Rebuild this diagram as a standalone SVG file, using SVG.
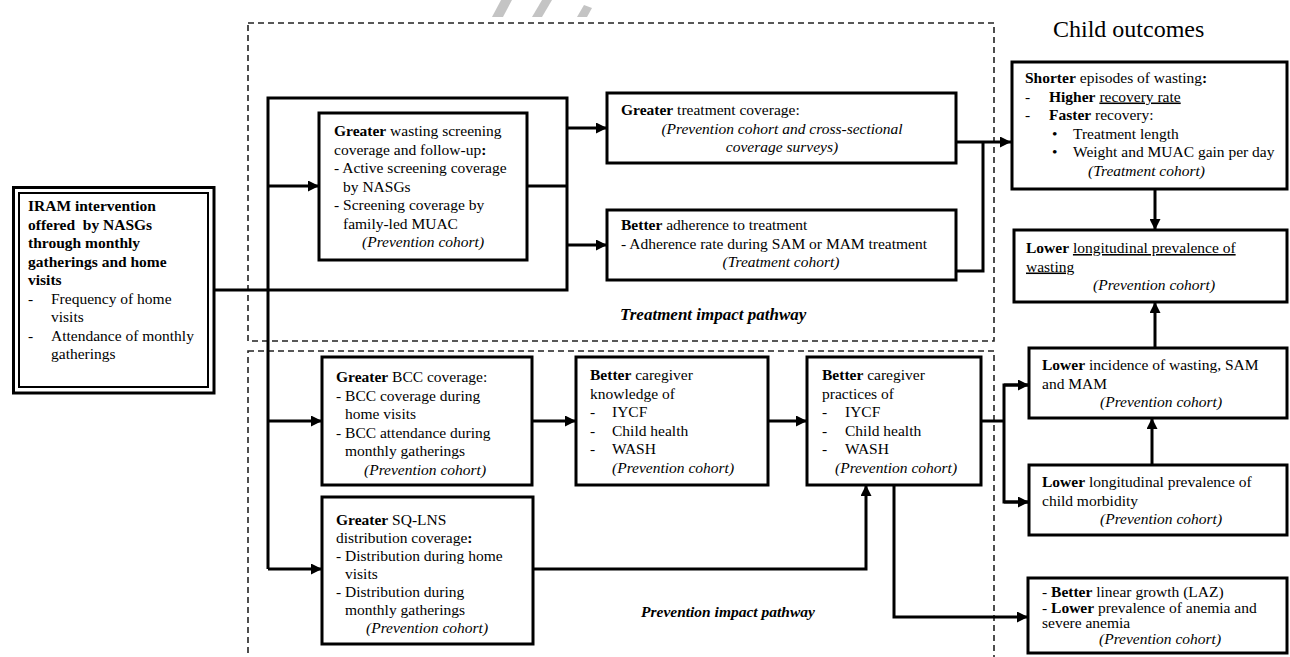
<svg xmlns="http://www.w3.org/2000/svg" width="1290" height="657" viewBox="0 0 1290 657">
<style>
text{font-family:"Liberation Serif","Times New Roman",serif;font-size:15.5px;fill:#000}
.b{font-weight:bold}
.i{font-style:italic}
.u{text-decoration:underline}
.box{fill:#fff;stroke:#000;stroke-width:3}
.dash{fill:none;stroke:#222;stroke-width:1.6;stroke-dasharray:6,4}
.con{fill:none;stroke:#000;stroke-width:3}
.arr{fill:none;stroke:#000;stroke-width:3;marker-end:url(#ah)}
</style>
<defs>
<marker id="ah" markerUnits="userSpaceOnUse" markerWidth="12" markerHeight="11" refX="11" refY="5.5" orient="auto">
<path d="M0,0 L11,5.5 L0,11 z" fill="#000"/>
</marker>
</defs>
<rect width="1290" height="657" fill="#fff"/>
<g id="watermark" fill="#c4c4c4">
<polygon points="492,17 503,17 512,0 501,0"/>
<polygon points="532,17 542,17 552,0 542,0"/>
<polygon points="577,17 587,17 592,8 584,5"/>
</g>
<g id="regions">
<rect class="dash" x="248" y="23" width="746" height="318"/>
<rect class="dash" x="248" y="351" width="746" height="400"/>
<text class="b i" x="620" y="320" style="font-size:17px">Treatment impact pathway</text>
<text class="b i" x="641" y="617">Prevention impact pathway</text>
<text x="1053" y="37" style="font-size:24px">Child outcomes</text>
</g>
<g id="connectors">
<polyline class="con" points="215,290 567,290 567,98 268,98 268,569"/>
<line class="con" x1="527" y1="186" x2="567" y2="186"/>
<line class="arr" x1="268" y1="186" x2="319" y2="186"/>
<line class="arr" x1="567" y1="128" x2="607" y2="128"/>
<line class="arr" x1="567" y1="245" x2="607" y2="245"/>
<line class="arr" x1="956" y1="142" x2="1011" y2="142"/>
<polyline class="con" points="956,271 983,271 983,142"/>
<line class="arr" x1="1155" y1="189" x2="1155" y2="230"/>
<line class="arr" x1="1155" y1="348" x2="1155" y2="302"/>
<line class="arr" x1="1152" y1="465" x2="1152" y2="418"/>
<line class="arr" x1="268" y1="421" x2="322" y2="421"/>
<line class="arr" x1="268" y1="569" x2="322" y2="569"/>
<line class="arr" x1="532" y1="421" x2="576" y2="421"/>
<line class="arr" x1="768" y1="421" x2="807" y2="421"/>
<polyline class="arr" points="533,569 866,569 866,485"/>
<line class="con" x1="981" y1="421" x2="1004" y2="421"/>
<polyline class="arr" points="1029,385 1004,385 1004,502 1029,502" style="marker-end:none"/>
<line class="arr" x1="1004" y1="385" x2="1029" y2="385"/>
<line class="arr" x1="1004" y1="502" x2="1029" y2="502"/>
<polyline class="arr" points="894,485 894,617 1028,617"/>
</g>
<g id="iram">
<rect x="13.5" y="187.5" width="200.5" height="205.5" fill="#fff" stroke="#000" stroke-width="3"/>
<rect x="19" y="193" width="189" height="194" fill="none" stroke="#000" stroke-width="2"/>
<text class="b" x="28" y="211">IRAM intervention</text>
<text class="b" x="28" y="229.5" xml:space="preserve">offered  by NASGs</text>
<text class="b" x="28" y="248">through monthly</text>
<text class="b" x="28" y="266.5">gatherings and home</text>
<text class="b" x="28" y="285">visits</text>
<text x="28" y="303.5">-</text><text x="51" y="303.5">Frequency of home</text>
<text x="51" y="322">visits</text>
<text x="28" y="340.5">-</text><text x="51" y="340.5">Attendance of monthly</text>
<text x="51" y="359">gatherings</text>
</g>
<g id="screening">
<rect class="box" x="319" y="113" width="208" height="147"/>
<text x="334" y="136"><tspan class="b">Greater</tspan> wasting screening</text>
<text x="334" y="154.5">coverage and follow-up<tspan class="b">:</tspan></text>
<text x="334" y="173">- Active screening coverage</text>
<text x="343" y="191.5">by NASGs</text>
<text x="334" y="210">- Screening coverage by</text>
<text x="343" y="228.5">family-led MUAC</text>
<text class="i" x="362" y="247">(Prevention cohort)</text>
</g>
<g id="treatment-coverage">
<rect class="box" x="607" y="93" width="349" height="70"/>
<text x="621" y="115"><tspan class="b">Greater</tspan> treatment coverage:</text>
<text class="i" x="782" y="133.5" text-anchor="middle">(Prevention cohort and cross-sectional</text>
<text class="i" x="782" y="152" text-anchor="middle">coverage surveys)</text>
</g>
<g id="adherence">
<rect class="box" x="607" y="210" width="349" height="70"/>
<text x="621" y="230"><tspan class="b">Better</tspan> adherence to treatment</text>
<text x="621" y="248.5">- Adherence rate during SAM or MAM treatment</text>
<text class="i" x="781" y="267" text-anchor="middle">(Treatment cohort)</text>
</g>
<g id="shorter">
<rect class="box" x="1012" y="62" width="275" height="127"/>
<text x="1025" y="83"><tspan class="b">Shorter</tspan><tspan dx="4">episodes of wasting</tspan><tspan class="b">:</tspan></text>
<text x="1025" y="101.5">-</text><text x="1049" y="101.5"><tspan class="b">Higher</tspan> <tspan class="u">recovery rate</tspan></text>
<text x="1025" y="120">-</text><text x="1049" y="120"><tspan class="b">Faster</tspan> recovery:</text>
<text x="1052" y="138.5">•</text><text x="1073" y="138.5">Treatment length</text>
<text x="1052" y="157">•</text><text x="1073" y="157">Weight and MUAC gain per day</text>
<text class="i" x="1088" y="175.5">(Treatment cohort)</text>
</g>
<g id="longitudinal-wasting">
<rect class="box" x="1014" y="230" width="273" height="72"/>
<text x="1026" y="253"><tspan class="b">Lower</tspan> <tspan class="u">longitudinal prevalence of</tspan></text>
<text class="u" x="1026" y="271.5">wasting</text>
<text class="i" x="1093" y="290">(Prevention cohort)</text>
</g>
<g id="incidence">
<rect class="box" x="1029" y="348" width="258" height="70"/>
<text x="1042" y="370"><tspan class="b">Lower</tspan> incidence of wasting, SAM</text>
<text x="1042" y="388.5">and MAM</text>
<text class="i" x="1100" y="407">(Prevention cohort)</text>
</g>
<g id="morbidity">
<rect class="box" x="1029" y="465" width="258" height="70"/>
<text x="1042" y="487"><tspan class="b">Lower</tspan> longitudinal prevalence of</text>
<text x="1042" y="505.5">child morbidity</text>
<text class="i" x="1100" y="524">(Prevention cohort)</text>
</g>
<g id="growth">
<rect class="box" x="1028" y="578" width="259" height="75"/>
<text x="1042" y="597">- <tspan class="b">Better</tspan> linear growth (LAZ)</text>
<text x="1042" y="612.5">- <tspan class="b">Lower</tspan> prevalence of anemia and</text>
<text x="1042" y="628">severe anemia</text>
<text class="i" x="1099" y="643.5">(Prevention cohort)</text>
</g>
<g id="bcc">
<rect class="box" x="322" y="357" width="210" height="128"/>
<text x="336" y="382"><tspan class="b">Greater</tspan> BCC coverage:</text>
<text x="336" y="400.5">- BCC coverage during</text>
<text x="345" y="419">home visits</text>
<text x="336" y="437.5">- BCC attendance during</text>
<text x="345" y="456">monthly gatherings</text>
<text class="i" x="364" y="474.5">(Prevention cohort)</text>
</g>
<g id="knowledge">
<rect class="box" x="576" y="357" width="192" height="128"/>
<text x="590" y="380"><tspan class="b">Better</tspan> caregiver</text>
<text x="590" y="398.5">knowledge of</text>
<text x="590" y="417">-</text><text x="612" y="417">IYCF</text>
<text x="590" y="435.5">-</text><text x="612" y="435.5">Child health</text>
<text x="590" y="454">-</text><text x="612" y="454">WASH</text>
<text class="i" x="612" y="472.5">(Prevention cohort)</text>
</g>
<g id="practices">
<rect class="box" x="807" y="357" width="174" height="128"/>
<text x="822" y="380"><tspan class="b">Better</tspan> caregiver</text>
<text x="822" y="398.5">practices of</text>
<text x="822" y="417">-</text><text x="845" y="417">IYCF</text>
<text x="822" y="435.5">-</text><text x="845" y="435.5">Child health</text>
<text x="822" y="454">-</text><text x="845" y="454">WASH</text>
<text class="i" x="835" y="472.5">(Prevention cohort)</text>
</g>
<g id="sqlns">
<rect class="box" x="322" y="497" width="211" height="147"/>
<text x="336" y="525"><tspan class="b">Greater</tspan> SQ-LNS</text>
<text x="336" y="543">distribution coverage<tspan class="b">:</tspan></text>
<text x="336" y="561">- Distribution during home</text>
<text x="345" y="579">visits</text>
<text x="336" y="597">- Distribution during</text>
<text x="345" y="615">monthly gatherings</text>
<text class="i" x="366" y="633">(Prevention cohort)</text>
</g>
</svg>
